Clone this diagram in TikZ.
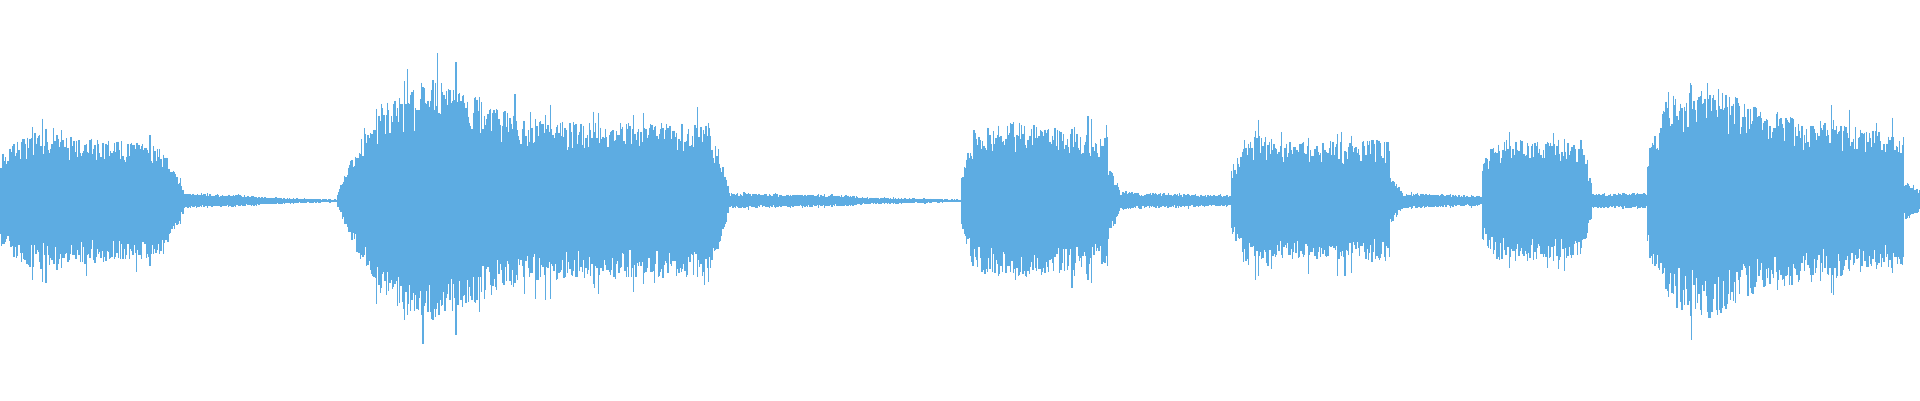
\documentclass[tikz,border=0pt]{standalone}
\definecolor{wave}{HTML}{5DACE2}
\begin{document}
\begin{tikzpicture}[x=1pt,y=1pt,wv/.style={draw=wave,line width=1.05pt}]
\useasboundingbox (0,0) rectangle (1568,327);
\pgfmathsetseed{7}
\draw[wave,line width=0.8pt] (0,163) -- (1568,163);
\foreach \xa/\xb/\aa/\ab in {0/10/35/45,10/35/45/56,35/120/52/45,120/135/45/40,135/150/40/8,150/210/6/4,210/275/3/1,275/285/5/30,285/310/30/75,310/350/75/95,350/380/95/85,380/430/85/62,430/580/62/60,580/595/55/12,595/700/6/4,700/785/3/1,785/795/20/55,795/830/55/62,830/905/62/50,905/915/30/8,915/1005/7/4,1005/1015/25/45,1015/1040/50/52,1040/1135/45/48,1135/1145/20/7,1145/1210/6/4,1210/1220/30/45,1220/1290/48/45,1290/1300/55/10,1300/1345/6/6,1345/1360/40/75,1360/1400/80/95,1400/1440/90/70,1440/1500/70/60,1500/1555/60/50,1555/1568/15/8}{
  \pgfmathtruncatemacro{\nn}{\xb-\xa-1}
  \foreach \i in {0,...,\nn}{
    \pgfmathsetmacro{\ampl}{1.05*(\aa+(\ab-\aa)*\i/(\nn+1))}
    \pgfmathsetmacro{\sp}{rnd<0.08 ? 1.25 : 1}
    \pgfmathsetmacro{\tp}{\ampl*(0.6+0.4*rnd^0.6)*\sp}
    \pgfmathsetmacro{\bt}{\ampl*(0.6+0.4*rnd^0.6)*\sp}
    \draw[wv] (\xa+\i+0.5,163+\tp) -- (\xa+\i+0.5,163-\bt);
  }
}
\end{tikzpicture}
\end{document}
